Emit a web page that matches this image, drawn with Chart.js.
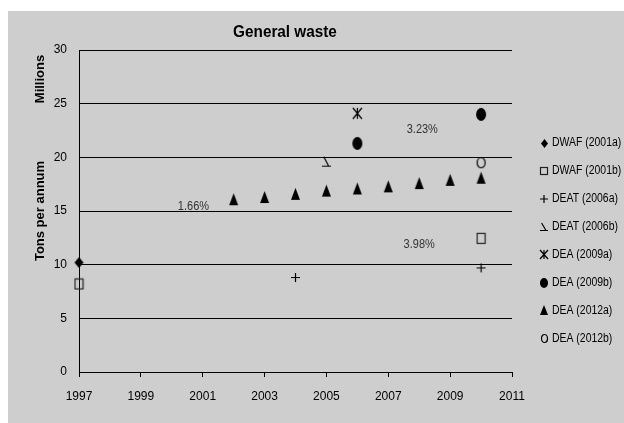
<!DOCTYPE html>
<html>
<head>
<meta charset="utf-8">
<script src="https://cdn.jsdelivr.net/npm/chart.js@4/dist/chart.umd.min.js"></script>
<style>
  body { margin: 0; background: #fff; }
  canvas { display: block; }
</style>
</head>
<body>
<canvas id="wasteChart" width="624" height="423"></canvas>
<script>
// General waste estimates, millions of tons per annum
const seriesNames = ['DWAF (2001a)', 'DWAF (2001b)', 'DEAT (2006a)', 'DEAT (2006b)',
                     'DEA (2009a)', 'DEA (2009b)', 'DEA (2012a)', 'DEA (2012b)'];

const dwaf2001aYears = [1997];
const dwaf2001aValues = [10.2];
const dwaf2001bYears = [1997, 2010];
const dwaf2001bValues = [8.2, 12.45];
const deat2006aYears = [2004, 2010];
const deat2006aValues = [8.8, 9.7];
const deat2006bYears = [2005];
const deat2006bValues = [19.6];
const dea2009aYears = [2006];
const dea2009aValues = [24.1];
const dea2009bYears = [2006, 2010];
const dea2009bValues = [21.3, 24.0];
const dea2012aYears = [2002, 2003, 2004, 2005, 2006, 2007, 2008, 2009, 2010];
const dea2012aValues = [16.1, 16.3, 16.6, 16.9, 17.1, 17.3, 17.6, 17.9, 18.1];
const dea2012bYears = [2010];
const dea2012bValues = [19.5];

const growthLabels = ['1.66%', '3.23%', '3.98%'];

const SANS = '"Liberation Sans", Arial, sans-serif';

// small canvases used as point styles
function marker(w, h, draw) {
    const c = document.createElement('canvas');
    c.width = w + 2;
    c.height = h + 2;
    const g = c.getContext('2d');
    g.translate(c.width / 2, c.height / 2);
    g.fillStyle = '#000';
    g.strokeStyle = '#000';
    g.lineWidth = 1.2;
    g.beginPath();
    draw(g, w / 2, h / 2);
    return c;
}

const shapes = {
    diamond: (g, a, b) => { g.moveTo(0, -b); g.lineTo(a, 0); g.lineTo(0, b); g.lineTo(-a, 0); g.closePath(); g.fill(); },
    square: (g, a, b) => { g.strokeStyle = '#222'; g.strokeRect(-a + 0.5, -b + 0.5, 2 * a - 1, 2 * b - 1); },
    plus: (g, a, b) => { g.moveTo(-a, 0); g.lineTo(a, 0); g.moveTo(0, -b); g.lineTo(0, b); g.stroke(); },
    angle: (g, a, b) => { g.moveTo(-0.6 * a, -b); g.lineTo(0.5 * a, b - 0.5); g.moveTo(-a, b - 0.5); g.lineTo(a, b - 0.5); g.stroke(); },
    star: (g, a, b) => {
        g.moveTo(-a, -b); g.lineTo(a, b); g.moveTo(a, -b); g.lineTo(-a, b);
        g.moveTo(0, -b); g.lineTo(0, b);
        g.stroke();
    },
    dot: (g, a, b) => { g.ellipse(0, 0, a, b, 0, 0, Math.PI * 2); g.fill(); },
    triangle: (g, a, b) => { g.moveTo(0, -b); g.lineTo(a, b); g.lineTo(-a, b); g.closePath(); g.fill(); },
    ring: (g, a, b) => { g.ellipse(0, 0, a - 0.5, b - 0.5, 0, 0, Math.PI * 2); g.stroke(); }
};

const shapeOrder = ['diamond', 'square', 'plus', 'angle', 'star', 'dot', 'triangle', 'ring'];
const plotSizes = [[9, 11], [9, 11], [9, 9], [9, 10], [9, 11], [10, 13], [9, 12], [9, 11]];
const legendSizes = [[7, 9], [8, 8], [8, 8], [8, 8], [8, 9], [8, 10], [8, 10], [7, 9]];

const plotMarkers = shapeOrder.map((s, i) => marker(plotSizes[i][0], plotSizes[i][1], shapes[s]));
const legendMarkers = shapeOrder.map((s, i) => marker(legendSizes[i][0], legendSizes[i][1], shapes[s]));

const seriesData = [
    [dwaf2001aYears, dwaf2001aValues],
    [dwaf2001bYears, dwaf2001bValues],
    [deat2006aYears, deat2006aValues],
    [deat2006bYears, deat2006bValues],
    [dea2009aYears, dea2009aValues],
    [dea2009bYears, dea2009bValues],
    [dea2012aYears, dea2012aValues],
    [dea2012bYears, dea2012bValues]
];

const datasets = seriesData.map(([xs, ys], i) => ({
    label: seriesNames[i],
    data: xs.map((x, j) => ({ x: x, y: ys[j] })),
    pointStyle: plotMarkers[i],
    pointRadius: 6,
    showLine: false,
    clip: false
}));

// text squeezed a little sideways, like a condensed face
function squeezed(ctx, text, x, y, sx) {
    ctx.save();
    ctx.translate(x, y);
    ctx.scale(sx, 1);
    ctx.fillText(text, 0, 0);
    ctx.restore();
}

// grey panel, title, axis titles, growth rates and legend
const decorations = {
    id: 'decorations',
    beforeDraw(chart) {
        const ctx = chart.ctx;
        ctx.save();
        ctx.fillStyle = '#fff';
        ctx.fillRect(0, 0, chart.width, chart.height);
        ctx.fillStyle = '#cecece';
        ctx.fillRect(8, 11, chart.width - 8, chart.height - 11);
        ctx.restore();
    },
    afterDraw(chart) {
        const ctx = chart.ctx;
        const xs = chart.scales.x, ys = chart.scales.y;
        ctx.save();
        ctx.fillStyle = '#000';
        ctx.textAlign = 'center';
        ctx.textBaseline = 'middle';

        ctx.font = 'bold 17px ' + SANS;
        squeezed(ctx, 'General waste', 285, 32, 0.9);

        ctx.font = 'bold 13px ' + SANS;
        ctx.save();
        ctx.translate(40, 79);
        ctx.rotate(-Math.PI / 2);
        ctx.fillText('Millions', 0, 0);
        ctx.restore();
        ctx.save();
        ctx.translate(40, (chart.chartArea.top + chart.chartArea.bottom) / 2);
        ctx.rotate(-Math.PI / 2);
        ctx.fillText('Tons per annum', 0, 0);
        ctx.restore();

        // growth rate notes, anchored in year / value space
        const anchors = [[2000.7, 15.4], [2008.1, 22.55], [2008.0, 11.85]];
        ctx.fillStyle = '#333';
        ctx.font = '12.5px ' + SANS;
        growthLabels.forEach((t, i) => {
            squeezed(ctx, t, xs.getPixelForValue(anchors[i][0]), ys.getPixelForValue(anchors[i][1]), 0.88);
        });

        ctx.fillStyle = '#000';
        ctx.textAlign = 'left';
        ctx.font = '12px ' + SANS;
        seriesNames.forEach((name, i) => {
            const y = 143 + i * 27.9;
            const m = legendMarkers[i];
            ctx.drawImage(m, Math.round(544 - m.width / 2), Math.round(y - m.height / 2));
            squeezed(ctx, name, 552, y, 0.87);
        });
        ctx.restore();
    }
};

new Chart(document.getElementById('wasteChart'), {
    type: 'scatter',
    data: { datasets: datasets },
    plugins: [decorations],
    options: {
        responsive: false,
        animation: false,
        layout: { padding: { top: 50, right: 112, left: 0, bottom: 0 } },
        plugins: {
            legend: { display: false },
            title: { display: false },
            tooltip: { enabled: false }
        },
        scales: {
            x: {
                type: 'linear',
                min: 1997,
                max: 2011,
                afterFit: (s) => { s.height = 51; },
                ticks: {
                    stepSize: 2,
                    color: '#000',
                    padding: 12,
                    font: { family: SANS, size: 12 },
                    callback: (v) => String(v)
                },
                grid: { drawOnChartArea: false, drawTicks: true, tickLength: 5, color: '#000' },
                border: { display: true, color: '#000' }
            },
            y: {
                min: 0,
                max: 30,
                afterFit: (s) => { s.width = 79; },
                ticks: {
                    stepSize: 5,
                    color: '#000',
                    padding: 12,
                    font: { family: SANS, size: 12 }
                },
                grid: { color: '#000', drawTicks: false },
                border: { display: true, color: '#000' }
            }
        }
    }
});
</script>
</body>
</html>
